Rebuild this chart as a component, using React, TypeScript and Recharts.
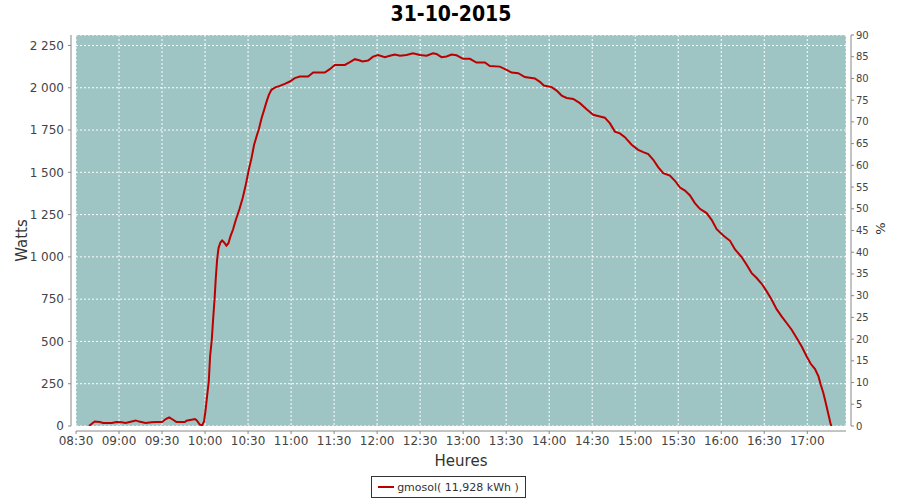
import React from 'react';
import {
  ComposedChart,
  Line,
  XAxis,
  YAxis,
  CartesianGrid,
  Legend,
  ReferenceArea,
} from 'recharts';

// time in minutes since midnight
const minutes: number[] = [
  519, 523, 526.5, 529, 535, 538, 542, 544.5, 547.5, 551.6, 554, 558.6, 562.6, 566, 570, 572.6, 575, 577.7, 580,
  586, 587, 590.5, 593, 594.4, 596.3, 598, 599.3, 600.3, 601.4, 602.6, 603.5, 604.7, 605.6, 606.6, 607.5, 608.4,
  609.4, 610.7, 611.9, 613.3, 614.9, 616.3, 617.7, 619.5, 621.5, 624, 626.3, 628.4, 630.5, 632.4, 634.2, 635.9,
  637.7, 639.4, 641.2, 642.9, 644.5, 646.3, 648.6, 652.1, 655.6, 659.1, 662.6, 666.1, 671.9, 675.4, 683.5, 687,
  690.5, 697.5, 701, 704.5, 708, 709.8, 713.7, 717.2, 720.7, 725.4, 728.9, 732.4, 736, 740.5, 745, 749.8, 754.5,
  759, 761.4, 764.9, 768.4, 771.9, 775.4, 780, 784.7, 789.3, 795.2, 798.6, 805.6, 810.3, 813.8, 818.4, 823, 830,
  833.5, 836.3, 841.7, 845.2, 848.7, 852.2, 856.8, 861.4, 866.1, 870.7, 875.4, 878.8, 882.4, 885.8, 889.3, 892.8,
  897.5, 902.1, 905.6, 909.1, 912.6, 916, 919.5, 924.2, 927.7, 931.2, 934.7, 938.2, 941.6, 945.1, 949.8, 953.3,
  956.8, 961.4, 966.1, 969.6, 974.2, 977.7, 981.2, 984.7, 988.2, 991.7, 995.2, 998.6, 1002.1, 1005.6, 1009.1,
  1012.6, 1016.1, 1019.6, 1022.4, 1025.4, 1027.8, 1029.4, 1031.2, 1032.9, 1034.8, 1036.4, 1037,
];

const watts: number[] = [
  0, 27, 24, 18, 18, 24, 22, 18, 24, 33, 26, 18, 22, 24, 24, 41, 51, 37, 24,
  24, 31, 37, 41, 31, 8, 5, 27, 90, 175, 264, 411, 510, 628, 746, 875, 983,
  1052, 1085, 1097, 1085, 1067, 1081, 1121, 1162, 1220, 1283, 1350, 1426, 1515, 1584, 1663, 1712,
  1761, 1820, 1869, 1918, 1958, 1988, 2001, 2011, 2023, 2037, 2057, 2066, 2066, 2090, 2090, 2110,
  2135, 2135, 2151, 2169, 2161, 2155, 2161, 2184, 2193, 2181, 2189, 2196, 2190, 2194, 2204, 2194, 2190,
  2204, 2200, 2181, 2185, 2196, 2192, 2171, 2171, 2149, 2149, 2128, 2125, 2106, 2090, 2086, 2063, 2055,
  2035, 2013, 2004, 1983, 1954, 1940, 1934, 1909, 1873, 1840, 1830, 1823, 1789, 1741, 1730, 1708,
  1663, 1633, 1619, 1608, 1574, 1531, 1495, 1481, 1450, 1410, 1392, 1363, 1318, 1284, 1259, 1219,
  1164, 1126, 1095, 1044, 999, 953, 904, 875, 841, 796, 746, 691, 648, 609, 569,
  520, 470, 411, 368, 337, 293, 244, 195, 136, 67, 8, 0,
];

const timeTicks: number[] = [510, 540, 570, 600, 630, 660, 690, 720, 750, 780, 810, 840, 870, 900, 930, 960, 990, 1020];
const wattTicks: number[] = [0, 250, 500, 750, 1000, 1250, 1500, 1750, 2000, 2250];
const pctTicks: number[] = [0, 5, 10, 15, 20, 25, 30, 35, 40, 45, 50, 55, 60, 65, 70, 75, 80, 85, 90];

const title = '31-10-2015';
const seriesName = 'gmosol( 11,928 kWh )';

const data = minutes.map((t, i) => ({ t, w: watts[i] }));

const fmtTime = (m: number) => {
  const h = Math.floor(m / 60);
  const mm = Math.round(m % 60);
  return `${String(h).padStart(2, '0')}:${String(mm).padStart(2, '0')}`;
};
const fmtWatts = (n: number) =>
  n >= 1000 ? `${Math.floor(n / 1000)} ${String(n % 1000).padStart(3, '0')}` : String(n);

const FONT = '"DejaVu Sans", sans-serif';
const BG = '#9fc4c4';
const RED = '#bb0000';

const WattsLabel = (props: any) => {
  const vb = props.viewBox || {};
  const cx = vb.x + 22;
  const cy = vb.y + vb.height / 2 + 10;
  return (
    <text x={cx} y={cy} transform={`rotate(-90, ${cx}, ${cy})`} textAnchor="middle" dominantBaseline="central"
      fontFamily={FONT} fontSize={15} fill="#333">Watts</text>
  );
};
const PctLabel = (props: any) => {
  const vb = props.viewBox || {};
  const cx = vb.x + vb.width - 20;
  const cy = vb.y + vb.height / 2 - 2;
  return (
    <text x={cx} y={cy} transform={`rotate(-90, ${cx}, ${cy})`} textAnchor="middle" dominantBaseline="central"
      fontFamily={FONT} fontSize={13} fill="#333">%</text>
  );
};
const HeuresLabel = (props: any) => {
  const vb = props.viewBox || {};
  return (
    <text x={vb.x + vb.width / 2} y={vb.y + 40} textAnchor="middle"
      fontFamily={FONT} fontSize={15} fill="#333">Heures</text>
  );
};

const LegendBox = () => (
  <div style={{ display: 'flex', justifyContent: 'center', height: 22 }}>
    <div style={{
      boxSizing: 'border-box', height: 22, border: '1px solid #333', background: '#fff',
      display: 'flex', alignItems: 'center', paddingLeft: 6, paddingRight: 6, fontFamily: FONT, fontSize: 11,
      color: '#333', whiteSpace: 'nowrap', marginLeft: -3,
    }}>
      <span style={{ display: 'inline-block', width: 16, height: 2, background: RED, marginRight: 3 }} />
      <span>{seriesName}</span>
    </div>
  </div>
);

export default function App() {
  return (
    <div style={{ position: 'absolute', left: 0, top: 0, width: 900, height: 500, background: '#fff' }}>
      <div style={{
        position: 'absolute', left: 0, top: 2, width: 902, textAlign: 'center',
        fontFamily: '"DejaVu Sans Condensed", "DejaVu Sans", sans-serif', fontWeight: 'bold', fontSize: 21, color: '#000',
      }}>{title}</div>
      <ComposedChart width={900} height={500} data={data} margin={{ top: 35, right: 0, bottom: 2, left: 0 }}>
        <CartesianGrid yAxisId="w" stroke="#ffffff" strokeDasharray="2 2" fill={BG} fillOpacity={1} />
        <XAxis
          dataKey="t" type="number" domain={[510, 1047]} ticks={timeTicks} allowDataOverflow
          tickFormatter={fmtTime} height={50} interval={0}
          tick={{ fontFamily: FONT, fontSize: 12, fill: '#444' }}
          axisLine={{ stroke: '#888', transform: 'translate(0 5)' }}
          tickLine={{ stroke: '#888', transform: 'translate(0 5)' }}
          tickSize={3} tickMargin={7}
          label={<HeuresLabel />}
        />
        <YAxis
          yAxisId="w" domain={[0, 2312]} ticks={wattTicks} allowDataOverflow width={76}
          tickFormatter={fmtWatts} interval={0}
          tick={{ fontFamily: FONT, fontSize: 12, fill: '#444' }}
          axisLine={{ stroke: '#888', transform: 'translate(-5 0)' }}
          tickLine={{ stroke: '#888', transform: 'translate(-5 0)' }}
          tickSize={3} tickMargin={9}
          label={<WattsLabel />}
        />
        <YAxis
          yAxisId="p" orientation="right" domain={[0, 90]} ticks={pctTicks} allowDataOverflow width={54}
          interval={0}
          tick={{ fontFamily: FONT, fontSize: 10, fill: '#444' }}
          axisLine={{ stroke: '#888', transform: 'translate(5 0)' }}
          tickLine={{ stroke: '#888', transform: 'translate(5 0)' }}
          tickSize={3} tickMargin={7}
          label={<PctLabel />}
        />
        <ReferenceArea yAxisId="w" fill="none" stroke="#000" strokeWidth={1} ifOverflow="visible" />
        <Line
          yAxisId="w" dataKey="w" name={seriesName} type="linear" stroke={RED} strokeWidth={2}
          dot={false} activeDot={false} isAnimationActive={false}
        />
        <Legend verticalAlign="bottom" content={<LegendBox />} />
      </ComposedChart>
    </div>
  );
}
